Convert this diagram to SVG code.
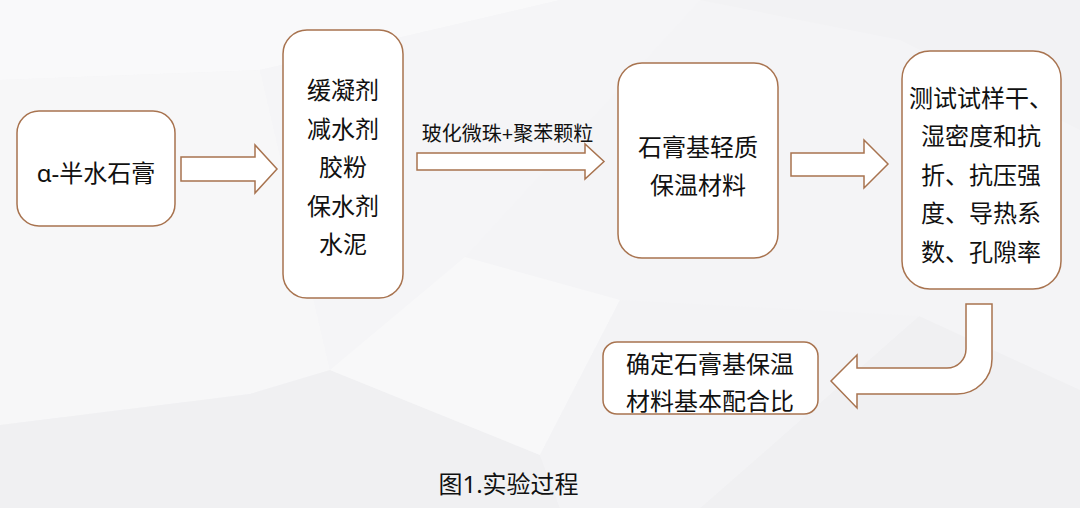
<svg xmlns="http://www.w3.org/2000/svg" width="1080" height="508" viewBox="0 0 1080 508">
<style>
.box{fill:#ffffff;stroke:#a8734f;stroke-width:1.5}
.arr{fill:#ffffff;stroke:#a8734f;stroke-width:1.5;stroke-linejoin:miter}
.t{font-family:"Noto Sans","Noto Sans CJK SC",sans-serif;font-size:24px;fill:#111111;text-anchor:middle}
.lbl{font-family:"Noto Sans","Noto Sans CJK SC",sans-serif;font-size:20px;fill:#111111;text-anchor:middle}
.cap{font-family:"Noto Sans","Noto Sans CJK SC",sans-serif;font-size:24px;fill:#111111;text-anchor:middle}
</style>
<g id="background">
<rect width="1080" height="508" fill="#f4f4f6"/>
<polygon points="0,0 560,0 260,70 0,80" fill="#f9f9fa"/>
<polygon points="0,80 260,70 330,370 250,394 0,425" fill="#f7f7f8"/>
<polygon points="260,70 560,0 700,0 465,257 330,370" fill="#f5f5f7"/>
<polygon points="0,425 250,394 330,370 540,455 560,508 0,508" fill="#f0f0f2"/>
<polygon points="330,370 465,257 620,300 540,455" fill="#f8f8f9"/>
<polygon points="700,508 919,316 1080,390 1080,508" fill="#f0f0f2"/>
<polygon points="700,0 1080,0 1080,130 900,40" fill="#f2f2f4"/>
<polygon points="540,455 620,300 919,316 700,508 560,508" fill="#f3f3f5"/>
</g>
<g id="connectors">
<polygon class="arr" points="181,157 255,157 255,145 277,169 255,193 255,181 181,181"/>
<polygon class="arr" points="417,153 585,153 585,144 604,161.5 585,179 585,170 417,170"/>
<polygon class="arr" points="791,153 864,153 864,140 888,164 864,188 864,176 791,176"/>
<path class="arr" d="M966,304 L992,304 L992,359 A35,35 0 0 1 957,394 L857,394 L857,408 L831,381 L857,355 L857,368 L947,368 A19,19 0 0 0 966,349 Z"/>
<text class="lbl" x="507.5" y="140.5">玻化微珠+聚苯颗粒</text>
</g>
<g id="node-gypsum">
<rect class="box" x="17" y="111" width="158" height="115" rx="22" ry="22"/>
<text class="t" x="96" y="182">α-半水石膏</text>
</g>
<g id="node-additives">
<rect class="box" x="283" y="30" width="120" height="268" rx="24" ry="24"/>
<text class="t" x="343" y="99">缓凝剂</text>
<text class="t" x="343" y="137.5">减水剂</text>
<text class="t" x="343" y="176">胶粉</text>
<text class="t" x="343" y="214.5">保水剂</text>
<text class="t" x="343" y="253">水泥</text>
</g>
<g id="node-material">
<rect class="box" x="618" y="63" width="160" height="195" rx="24" ry="24"/>
<text class="t" x="698" y="156">石膏基轻质</text>
<text class="t" x="698" y="194">保温材料</text>
</g>
<g id="node-test">
<rect class="box" x="902" y="51" width="159" height="238" rx="28" ry="28"/>
<text class="t" x="981" y="106.5">测试试样干、</text>
<text class="t" x="981" y="145">湿密度和抗</text>
<text class="t" x="981" y="183.5">折、抗压强</text>
<text class="t" x="981" y="222">度、导热系</text>
<text class="t" x="981" y="260.5">数、孔隙率</text>
</g>
<g id="node-result">
<rect class="box" x="603" y="342" width="215" height="72" rx="14" ry="14"/>
<text class="t" x="710" y="372.5">确定石膏基保温</text>
<text class="t" x="710" y="410">材料基本配合比</text>
</g>
<g id="caption">
<text class="cap" x="508.5" y="493">图1.实验过程</text>
</g>
</svg>
